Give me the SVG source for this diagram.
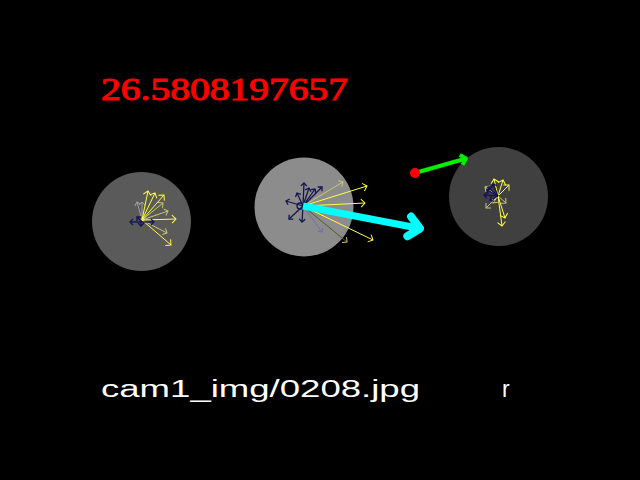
<svg xmlns="http://www.w3.org/2000/svg" width="640" height="480" viewBox="0 0 640 480">
<style>
.y{stroke:#ffff40;stroke-width:1;fill:none;marker-end:url(#hy)}
.yd{stroke:#c8c870;stroke-width:1;fill:none;marker-end:url(#hyd)}
.g{stroke:#a0a0a0;stroke-width:1;fill:none;marker-end:url(#hg)}
.n{stroke:#141450;stroke-width:1.3;fill:none;marker-end:url(#hn)}
.s{stroke:#7070a8;stroke-width:1;fill:none;marker-end:url(#hs)}
.t1{font-family:"Liberation Serif",serif;font-size:31px;fill:#ff0000;stroke:#ff0000;stroke-width:1}
.t2{font-family:"Liberation Sans",sans-serif;font-size:23px;fill:#ffffff}
</style>
<defs>
<marker id="hy" markerUnits="userSpaceOnUse" viewBox="-6 -6 8 12" markerWidth="8" markerHeight="12" refX="0" refY="0" orient="auto"><path d="M-4,-4 L0,0 L-4,4" fill="none" stroke="#ffff40" stroke-width="1"/></marker>
<marker id="hyd" markerUnits="userSpaceOnUse" viewBox="-6 -6 8 12" markerWidth="8" markerHeight="12" refX="0" refY="0" orient="auto"><path d="M-3.5,-3.5 L0,0 L-3.5,3.5" fill="none" stroke="#c8c870" stroke-width="1"/></marker>
<marker id="hg" markerUnits="userSpaceOnUse" viewBox="-6 -6 8 12" markerWidth="8" markerHeight="12" refX="0" refY="0" orient="auto"><path d="M-3,-3 L0,0 L-3,3" fill="none" stroke="#a0a0a0" stroke-width="1"/></marker>
<marker id="hn" markerUnits="userSpaceOnUse" viewBox="-6 -6 8 12" markerWidth="8" markerHeight="12" refX="0" refY="0" orient="auto"><path d="M-3,-3 L0,0 L-3,3" fill="none" stroke="#141450" stroke-width="1.3"/></marker>
<marker id="hs" markerUnits="userSpaceOnUse" viewBox="-6 -6 8 12" markerWidth="8" markerHeight="12" refX="0" refY="0" orient="auto"><path d="M-3,-3 L0,0 L-3,3" fill="none" stroke="#7070a8" stroke-width="1"/></marker>
<marker id="hc" markerUnits="userSpaceOnUse" viewBox="-20 -20 24 40" markerWidth="24" markerHeight="40" refX="0" refY="0" orient="auto"><path d="M-11,-10 L0,0 L-11,10" fill="none" stroke="#00ffff" stroke-width="8" stroke-linejoin="round" stroke-linecap="round"/></marker>
<marker id="hgr" markerUnits="userSpaceOnUse" viewBox="-10 -10 14 20" markerWidth="14" markerHeight="20" refX="0" refY="0" orient="auto"><path d="M-5,-5 L0,0 L-5,5" fill="none" stroke="#00f000" stroke-width="4" stroke-linejoin="round"/></marker>
</defs>
<rect width="640" height="480" fill="#000"/>
<text class="t1" x="101" y="100" textLength="247" lengthAdjust="spacingAndGlyphs">26.5808197657</text>

<g id="node1">
<circle cx="141.5" cy="221.5" r="49.5" fill="#5a5a5a"/>
<path class="g" d="M142,220 L137,202"/>
<path class="g" d="M142,220 L142,202"/>
<path class="yd" d="M142,220 L163,203"/>
<path class="yd" d="M142,220 L168,211"/>
<path class="yd" d="M142,220 L167,233"/>
<path class="y" d="M142,220 L148,191"/>
<path class="y" d="M142,220 L155,193"/>
<path class="y" d="M142,220 L164,195"/>
<path class="y" d="M142,220 L176,219"/>
<path class="y" d="M142,220 L171,245"/>
<path class="n" d="M142,222 L130,222"/>
<path class="n" d="M142,222 L154,222"/>
<path class="n" d="M141,221 L137,217"/>
<path class="n" d="M141,221 L141,226"/>
</g>

<g id="node2">
<circle cx="304" cy="207" r="49.5" fill="#8c8c8c"/>
<path class="yd" d="M303,206 L343,182"/>
<path class="y" d="M303,206 L367,186"/>
<path class="y" d="M303,206 L365,203"/>
<path class="y" d="M303,206 L373,240"/>
<path class="yd" d="M303,206 L347,242" style="stroke:#5a5a28"/>
<path class="n" d="M303,206 L304,183"/>
<path class="n" d="M303,206 L297,193"/>
<path class="n" d="M303,206 L309,188"/>
<path class="n" d="M303,206 L315,189"/>
<path class="n" d="M303,206 L322,187"/>
<path class="n" d="M303,206 L286,201"/>
<path class="n" d="M303,206 L289,219"/>
<path class="n" d="M303,206 L302,222"/>
<path class="s" d="M303,206 L322,232"/>
<circle cx="300" cy="206" r="3" fill="none" stroke="#141450" stroke-width="1.3"/>
</g>

<g id="node3">
<circle cx="498.5" cy="196.5" r="49.5" fill="#404040"/>
<path class="yd" d="M498,196 L485,187"/>
<path class="yd" d="M498,196 L506,203"/>
<path class="yd" d="M498,196 L493,203"/>
<path class="yd" d="M498,196 L486,208"/>
<path class="y" d="M498,196 L494,179"/>
<path class="y" d="M498,196 L503,180"/>
<path class="y" d="M498,196 L509,185"/>
<path class="y" d="M498,196 L505,218"/>
<path class="y" d="M498,196 L502,226"/>
<path class="n" d="M498,196 L487,190"/>
<path class="n" d="M498,196 L484,195"/>
<path class="n" d="M498,196 L490,200"/>
<path class="n" d="M498,196 L493,184"/>
<path class="n" d="M498,196 L488,187"/>
</g>

<g id="connectors">
<path d="M303,206 L420,228.5" fill="none" stroke="#00ffff" stroke-width="7" marker-end="url(#hc)"/>
<path d="M415,173 L466,158.5" fill="none" stroke="#00f000" stroke-width="4" marker-end="url(#hgr)"/>
<circle cx="415" cy="173" r="5" fill="#ff0000"/>
</g>

<text class="t2" x="101" y="397" textLength="319" lengthAdjust="spacingAndGlyphs">cam1_img/0208.jpg</text>
<text class="t2" x="502" y="397">r</text>
</svg>
